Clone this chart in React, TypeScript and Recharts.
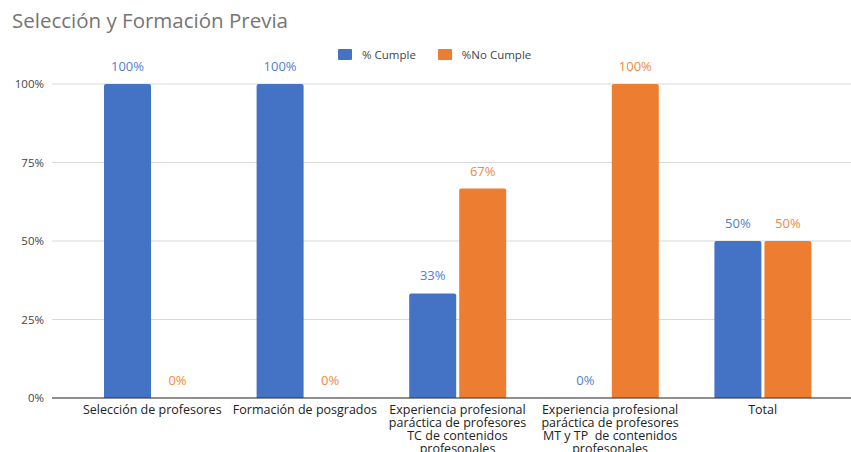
import { Bar, BarChart, CartesianGrid, LabelList, XAxis, YAxis } from "recharts";

const categories = [
  "Selección de profesores",
  "Formación de posgrados",
  "Experiencia profesional\nparáctica de profesores\nTC de contenidos\nprofesonales",
  "Experiencia profesional\nparáctica de profesores\nMT y TP  de contenidos\nprofesonales",
  "Total",
];
const cumple = [100, 100, 33.3, 0, 50];
const noCumple = [0, 0, 66.7, 100, 50];
const yTicks = [0, 25, 50, 75, 100];

const BLUE = "#4472c4";
const ORANGE = "#ed7d31";

const data = categories.map((name, i) => ({ name, cumple: cumple[i], noCumple: noCumple[i] }));

const pct = (v: unknown) => `${Math.round(Number(v))}%`;

function CategoryTick({ x, y, payload }: any) {
  const lines = String(payload.value).split("\n");
  return (
    <text x={x} y={y} textAnchor="middle" fill="#222" fontSize={12.5} fontFamily="Open Sans" style={{ whiteSpace: "pre" }}>
      {lines.map((l, i) => (
        <tspan key={i} x={x} dy={i === 0 ? 8 : 13}>
          {l}
        </tspan>
      ))}
    </text>
  );
}

function LegendBox() {
  const item = (color: string, label: string) => (
    <div style={{ display: "flex", alignItems: "center", marginRight: 22 }}>
      <span style={{ width: 14, height: 11, background: color, borderRadius: 1, marginRight: 10 }} />
      <span>{label}</span>
    </div>
  );
  return (
    <div
      style={{
        position: "absolute",
        left: 338,
        top: 47,
        display: "flex",
        fontFamily: "Open Sans",
        fontSize: 11.5,
        color: "#444",
      }}
    >
      {item(BLUE, "% Cumple")}
      {item(ORANGE, "%No Cumple")}
    </div>
  );
}

export default function App() {
  return (
    <div style={{ position: "absolute", left: 0, top: 0, width: 851, height: 452, background: "#fff", overflow: "hidden" }}>
      <div
        style={{
          position: "absolute",
          left: 12,
          top: 6,
          fontFamily: "Open Sans",
          fontSize: 20.5,
          color: "#757575",
          whiteSpace: "nowrap",
        }}
      >
        Selección y Formación Previa
      </div>
      <LegendBox />
      <BarChart
        width={851}
        height={452}
        data={data}
        margin={{ top: 84, right: 0, bottom: 0, left: 8 }}
        barGap={3}
        barCategoryGap={28}
      >
        <CartesianGrid vertical={false} stroke="#d9d9d9" />
        <XAxis
          dataKey="name"
          interval={0}
          height={54}
          padding={{ left: 24, right: 12 }}
          axisLine={{ stroke: "#333" }}
          tickLine={false}
          tick={<CategoryTick />}
        />
        <YAxis
          width={44}
          domain={[0, 100]}
          ticks={yTicks}
          tickFormatter={pct}
          axisLine={false}
          tickLine={false}
          tick={{ fill: "#444", fontSize: 11.5, fontFamily: "Open Sans" }}
        />
        <Bar dataKey="cumple" name="% Cumple" fill={BLUE} radius={[2, 2, 0, 0]} minPointSize={0.01} isAnimationActive={false}>
          <LabelList dataKey="cumple" position="top" offset={13} formatter={pct} fill="#4f7fd0" fontSize={13} fontFamily="Open Sans" />
        </Bar>
        <Bar dataKey="noCumple" name="%No Cumple" fill={ORANGE} radius={[2, 2, 0, 0]} minPointSize={0.01} isAnimationActive={false}>
          <LabelList dataKey="noCumple" position="top" offset={13} formatter={pct} fill="#f0883e" fontSize={13} fontFamily="Open Sans" />
        </Bar>
      </BarChart>
    </div>
  );
}
